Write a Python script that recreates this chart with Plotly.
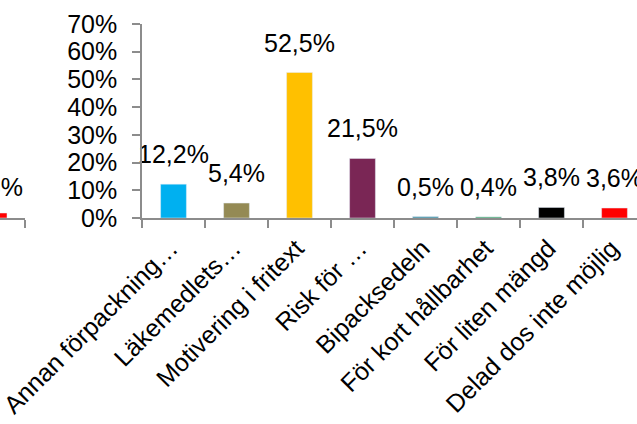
import plotly.graph_objects as go

categories = ["Annan förpackning…", "Läkemedlets…", "Motivering i fritext", "Risk för …",
              "Bipacksedeln", "För kort hållbarhet", "För liten mängd", "Delad dos inte möjlig"]
values = [12.2, 5.4, 52.5, 21.5, 0.5, 0.4, 3.8, 3.6]
colors = ["#00B0F0", "#948A54", "#FFC000", "#7A2655", "#31859C", "#2E9A5E", "#000000", "#FF0000"]
y_ticks = [0, 10, 20, 30, 40, 50, 60, 70]

# cut-off neighbouring chart visible at the far left edge (last bar only)
neighbor_categories = ["Delad dos inte möjlig"]
neighbor_values = [1.8]
neighbor_colors = ["#FF0000"]

fracs = [v / 100 for v in values]
labels = [f"{v:.1f}%".replace(".", ",") for v in values]
n_fracs = [v / 100 for v in neighbor_values]
n_labels = [f"{v:.1f}%".replace(".", ",") for v in neighbor_values]

W, H = 637, 424
left_px = 142
frag_px = 25
cat_px = 63
n_visible = (W - left_px) / cat_px

FONT = "Liberation Sans, Arial, sans-serif"
AXC = "#8C8C8C"
FS = 25

fig = go.Figure()
fig.add_trace(go.Bar(
    x=categories, y=fracs, marker_color=colors, width=0.41,
    xaxis="x", yaxis="y", showlegend=False, hoverinfo="skip",
))
fig.add_trace(go.Scatter(
    x=categories, y=fracs, mode="markers+text", text=labels,
    textposition="top center", cliponaxis=False,
    marker=dict(size=22, color="rgba(0,0,0,0)"),
    textfont=dict(size=FS, color="black", family=FONT),
    xaxis="x", yaxis="y", showlegend=False, hoverinfo="skip",
))
fig.add_trace(go.Bar(
    x=neighbor_categories, y=n_fracs, marker_color=neighbor_colors, width=0.28,
    xaxis="x2", yaxis="y", showlegend=False, hoverinfo="skip",
))
for c, f, t in zip(neighbor_categories, n_fracs, n_labels):
    fig.add_annotation(
        x=c, y=f, xref="x2", yref="y", text=t, showarrow=False,
        yanchor="bottom", yshift=10, xshift=-6,
        font=dict(size=FS, color="black", family=FONT),
    )

fig.update_layout(
    width=W, height=H,
    margin=dict(l=0, r=0, t=24, b=H - 218, autoexpand=False),
    plot_bgcolor="white", paper_bgcolor="white",
    font=dict(family=FONT, size=FS, color="black"),
    xaxis=dict(
        domain=[left_px / W, 1], anchor="y", automargin=False,
        type="category", categoryorder="array", categoryarray=categories,
        range=[-0.5, -0.5 + n_visible],
        showline=True, linecolor=AXC, linewidth=1.5,
        ticks="outside", tickson="boundaries", ticklen=8, tickcolor=AXC, tickwidth=1.5,
        tickangle=-45, tickfont=dict(size=25, color="black", family=FONT),
        ticklabelstandoff=4, ticklabelshift=-3,
        showgrid=False, zeroline=False,
    ),
    xaxis2=dict(
        domain=[0, frag_px / W], anchor="y", automargin=False,
        type="category", categoryorder="array", categoryarray=neighbor_categories,
        range=[0.0, 0.5],
        showline=True, linecolor=AXC, linewidth=1.5,
        ticks="outside", tickson="boundaries", ticklen=8, tickcolor=AXC, tickwidth=1.5,
        showticklabels=False, showgrid=False, zeroline=False,
    ),
    yaxis=dict(
        range=[0, 0.7], tickvals=[t / 100 for t in y_ticks], automargin=False,
        ticktext=[f"{t}%" for t in y_ticks],
        showline=True, linecolor=AXC, linewidth=1.5,
        ticks="outside", ticklen=8, tickcolor=AXC, tickwidth=1.5,
        ticklabelstandoff=10,
        tickfont=dict(size=FS, color="black", family=FONT),
        showgrid=False, zeroline=False, anchor="x",
    ),
)

fig.write_html("out.html", config={"displayModeBar": False},
               post_script="document.body.style.margin='0';")
